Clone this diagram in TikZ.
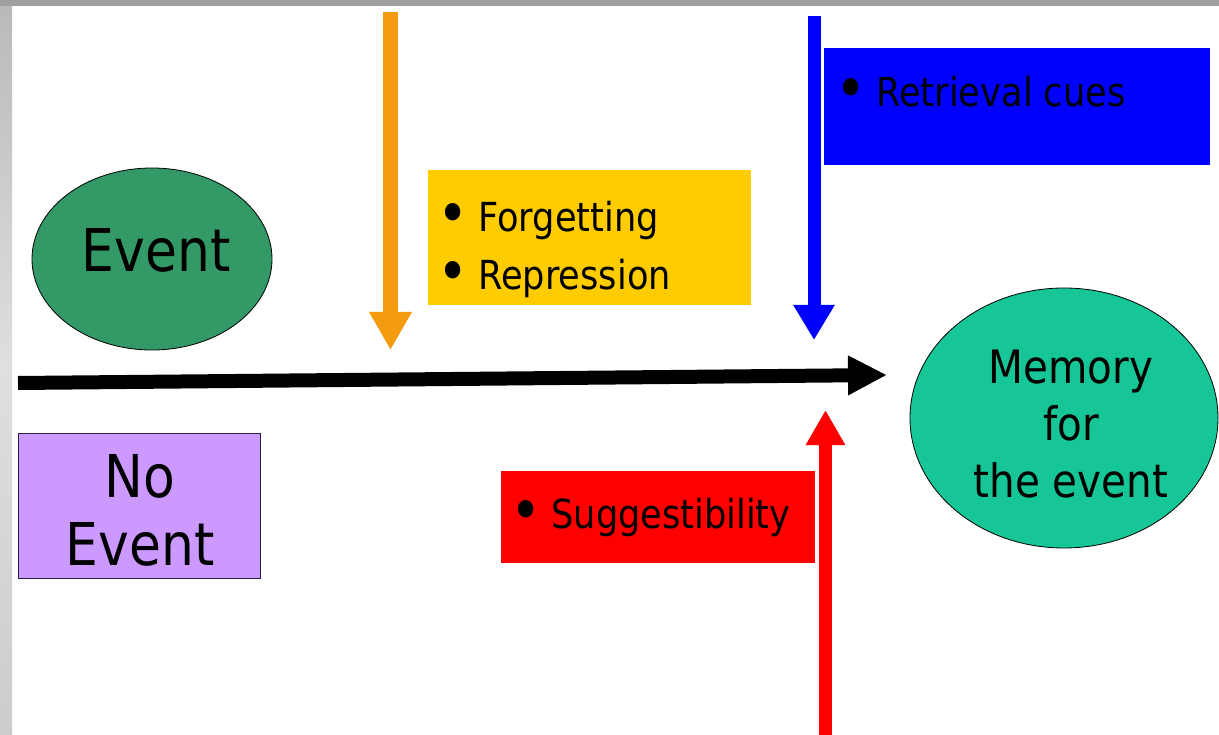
\documentclass[tikz,border=0pt]{standalone}
\usepackage{fontspec}
\setmainfont[FakeStretch=0.88]{DejaVu Sans}
\usetikzlibrary{arrows.meta,shapes.geometric}

\definecolor{eventgreen}{RGB}{51,153,102}
\definecolor{memgreen}{RGB}{22,198,150}
\definecolor{lilac}{RGB}{204,153,255}
\definecolor{navyline}{RGB}{40,30,70}
\definecolor{boxyellow}{RGB}{255,204,0}
\definecolor{arrorange}{RGB}{245,155,15}
\definecolor{boxblue}{RGB}{0,0,255}
\definecolor{boxred}{RGB}{255,0,0}
\definecolor{frame}{RGB}{160,160,160}

\newcommand\evfont{\fontsize{59pt}{68pt}\selectfont}
\newcommand\memfont{\fontsize{46pt}{57pt}\selectfont}
\newcommand\bulfont{\fontsize{40pt}{48pt}\selectfont}
\newcommand\bul{{\fontsize{60pt}{60pt}\selectfont\raisebox{-3pt}{\textbullet}}\hspace{10pt}}

\tikzset{
  cause/.style={rectangle, inner sep=0pt, draw=#1, fill=#1},
  blob/.style={ellipse, inner sep=0pt, draw=black, line width=0.8pt, fill=#1},
  cue/.style={anchor=base west, inner sep=0pt, font=\bulfont},
  pusher/.style={line width=#1},
}

\begin{document}
\begin{tikzpicture}[x=1pt,y=-1pt]
  \useasboundingbox (0,0) rectangle (1219,735);
  % slide background
  \fill[white] (0,0) rectangle (1219,735);
  \shade[top color=gray!55, bottom color=gray!40, middle color=gray!25] (0,0) rectangle (12,735);
  \fill[frame] (0,0) rectangle (1219,6);

  % event and outcome
  \node[blob=eventgreen, minimum width=240pt, minimum height=182pt] (event) at (152,259) {};
  \node[anchor=base, inner sep=0pt, font=\evfont] (eventtext) at (156,272) {Event};

  \node[rectangle, draw=navyline, line width=0.8pt, fill=lilac, minimum width=242pt, minimum height=145pt] (noevent) at (139,505.5) {};
  \node[anchor=base, inner sep=0pt, font=\evfont, align=center] (noeventtext) at (140,565) {No\\Event};

  \node[blob=memgreen, minimum width=308pt, minimum height=260pt] (memory) at (1064,418) {};
  \node[anchor=base, inner sep=0pt, font=\memfont, align=center] (memorytext) at (1071,497) {Memory\\for\\the event};

  % influences
  \node[cause=boxyellow, minimum width=322pt, minimum height=134pt] (forgetbox) at (589,237) {};
  \node[cue] (forget) at (437,232) {\bul Forgetting};
  \node[cue] (repress) at (437,290) {\bul Repression};

  \node[cause=boxblue, minimum width=385pt, minimum height=116pt] (cuebox) at (1016.5,106) {};
  \node[cue] (retrieval) at (835,107) {\bul Retrieval cues};

  \node[cause=boxred, minimum width=313pt, minimum height=91pt] (suggestbox) at (657.5,516.5) {};
  \node[cue] (suggest) at (510,528) {\bul Suggestibility};

  % arrows
  \coordinate (tlstart) at (18,383);
  \coordinate (tlend) at (887,375);
  \coordinate (otop) at (390.5,12);
  \coordinate (otip) at (390.5,350);
  \coordinate (btop) at (814,16);
  \coordinate (btip) at (814,340);
  \coordinate (rbot) at (825.5,735);
  \coordinate (rtip) at (825.5,410);

  \draw[pusher=14pt, black, -{Triangle[length=39pt,width=37pt]}] (tlstart) -- (tlend);
  \draw[pusher=15pt, arrorange, -{Triangle[length=38pt,width=40pt]}] (otop) -- (otip);
  \draw[pusher=13pt, boxblue, -{Triangle[length=35pt,width=39pt]}] (btop) -- (btip);
  \draw[pusher=13pt, boxred, -{Triangle[length=35pt,width=37pt]}] (rbot) -- (rtip);
\end{tikzpicture}
\end{document}
